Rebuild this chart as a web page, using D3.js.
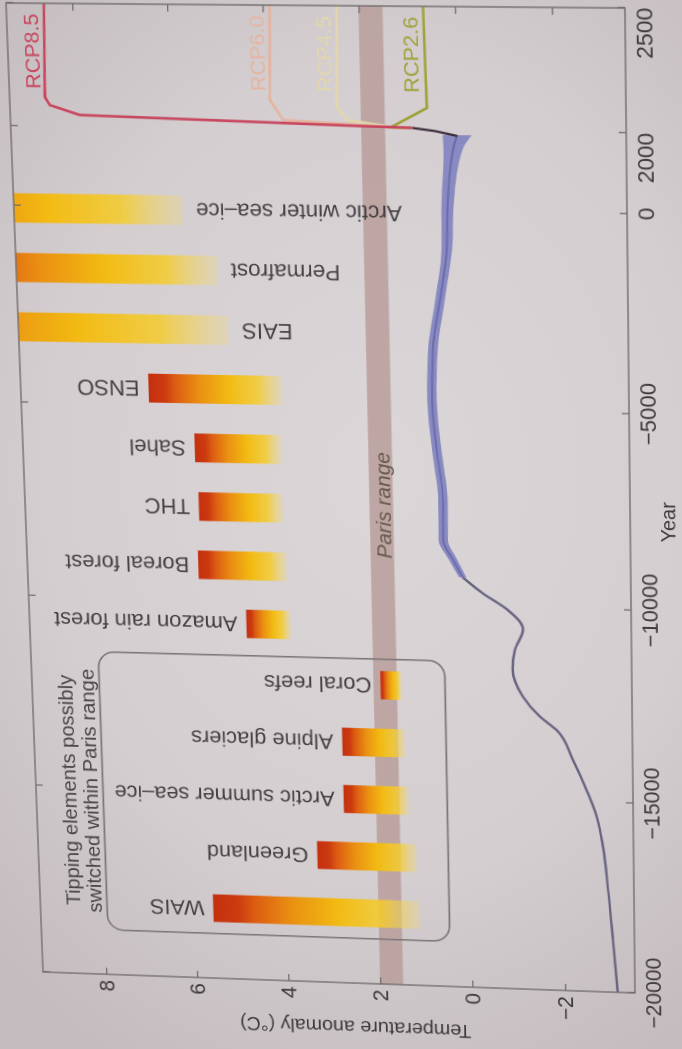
<!DOCTYPE html>
<html>
<head>
<meta charset="utf-8">
<script src="https://cdn.jsdelivr.net/npm/d3@7"></script>
<style>
    html, body { margin: 0; padding: 0; }
    body {
        width: 682px;
        height: 1049px;
        overflow: hidden;
        position: relative;
        background: radial-gradient(ellipse 80% 65% at 55% 45%, #dbd6d8 0%, #d4ced0 60%, #c3bbbd 100%);
    }
    #chart {
        position: absolute;
        left: 0;
        top: 0;
        transform-origin: 0 0;
        filter: blur(0.35px);
    }
    text { font-family: "Liberation Sans", Arial, sans-serif; }
</style>
</head>
<body>
<div id="chart"></div>
<script>
// paleo record up to the early Holocene (thin line)
let shakunYears = [-20000, -18600, -17300, -16150, -15400, -14700, -13900, -13150, -12800, -12300, -11600, -11100, -10550, -10050, -9650, -9250]
let shakunTemp = [-3.13, -3.04, -2.95, -2.85, -2.73, -2.52, -2.23, -1.90, -1.54, -1.19, -0.98, -1.03, -1.21, -0.88, -0.37, 0.05]

// Holocene record, drawn as a band
let marcottYears = [-9250, -8800, -8300, -7300, -6000, -4750, -3450, -2200, -950, 300, 1550, 1900]
let marcottTemp = [0.05, 0.25, 0.45, 0.44, 0.55, 0.63, 0.59, 0.42, 0.26, 0.22, 0.09, 0.0]
let marcottSpread = [0.08, 0.09, 0.1, 0.1, 0.1, 0.1, 0.1, 0.1, 0.11, 0.13, 0.2, 0.3]

// instrumental record
let obsYears = [1880, 1940, 1996, 2011]
let obsTemp = [0.0, 0.24, 0.47, 0.94]

// projections (drawn in this order, 8.5 on top)
let rcpNames = ["RCP4.5", "RCP6.0", "RCP2.6", "RCP8.5"]
let rcpColors = ["#e2d6ac", "#e4b4a0", "#9ea33a", "#c8475f"]
let rcp45Years = [2011, 2013, 2040, 2092, 2500]
let rcp45Temp = [0.94, 1.33, 2.29, 2.5, 2.45]
let rcp60Years = [2011, 2013, 2037, 2118, 2500]
let rcp60Temp = [0.94, 1.33, 3.63, 3.9, 3.85]
let rcp26Years = [2011, 2013, 2092, 2500]
let rcp26Temp = [0.94, 1.37, 0.62, 0.66]
let rcp85Years = [2011, 2013, 2016, 2048, 2087, 2120, 2500]
let rcp85Temp = [0.94, 1.33, 2.02, 7.92, 8.55, 8.65, 8.6]

// tipping elements, temperature ranges
let tipNames = ["WAIS", "Greenland", "Arctic summer sea\u2013ice", "Alpine glaciers", "Coral reefs", "Amazon rain forest",
    "Boreal forest", "THC", "Sahel", "ENSO", "EAIS", "Permafrost", "Arctic winter sea\u2013ice"]
let tipLow = [1.1, 1.15, 1.3, 1.35, 1.4, 3.75, 3.8, 3.85, 3.85, 3.8, 4.9, 5.1, 5.8]
let tipHigh = [5.6, 3.3, 2.7, 2.7, 1.85, 4.7, 5.7, 5.65, 5.7, 6.65, 13, 11.2, 13]
let parisTipCount = 5

let parisRange = [1.5, 2.0]
let boxTemp = [0.47, 7.93]

let yearTicks = [-20000, -15000, -10000, -5000, 0, 2000, 2500]
let tempTicks = [-2, 0, 2, 4, 6, 8]

const W = 985, H = 600
const margin = { top: 40, right: 40, bottom: 100, left: 100 }
const ink = '#3d393b', frameColor = '#736e70'

// axis is stretched after 2000
let x = d3.scaleLinear().domain([-20000, 2000, 2500]).range([0, 0.878 * W, W])
let y = d3.scaleLinear().domain([-3.5, 9.4]).range([H, 0])
let px = d3.scalePoint().domain(tipNames).range([0.075 * W, 0.796 * W])

let svgW = margin.left + W + margin.right
let svgH = margin.top + H + margin.bottom

let holder = d3.select('#chart').style('width', svgW + 'px').style('height', svgH + 'px')
let svg = holder.append('svg').attr('width', svgW).attr('height', svgH)
let defs = svg.append('defs')

defs.append('clipPath').attr('id', 'plot-clip')
    .append('rect').attr('width', W).attr('height', H)

let grad = defs.append('linearGradient').attr('id', 'tip-grad')
    .attr('x1', 0).attr('y1', 0).attr('x2', 0).attr('y2', 1)
let stops = [
    [0, '#c4300e', 1], [0.12, '#cc3a10', 1], [0.2, '#dc5c12', 1], [0.38, '#ea9012', 1],
    [0.6, '#f2ba12', 1], [0.82, '#f4cb2c', 0.85], [1, '#f2d870', 0.25]
]
grad.selectAll('stop').data(stops).join('stop')
    .attr('offset', d => d[0]).attr('stop-color', d => d[1]).attr('stop-opacity', d => d[2])

let g = svg.append('g').attr('transform', `translate(${margin.left},${margin.top})`)
let plot = g.append('g').attr('clip-path', 'url(#plot-clip)')

// Paris range band
plot.append('rect')
    .attr('x', 0).attr('width', W)
    .attr('y', y(parisRange[1]))
    .attr('height', y(parisRange[0]) - y(parisRange[1]))
    .attr('fill', '#b99d9b')
    .attr('opacity', 0.85)

g.append('text')
    .attr('x', x(-7450))
    .attr('y', y(1.71))
    .attr('text-anchor', 'middle')
    .attr('dominant-baseline', 'central')
    .attr('font-size', 21)
    .attr('font-style', 'italic')
    .attr('fill', '#66594a')
    .text('Paris range')

// box around the elements that may tip within the Paris range
let step = px.step()
let boxL = px(tipNames[0]) - 0.45 * step
let boxR = px(tipNames[parisTipCount - 1]) + 0.45 * step
g.append('rect')
    .attr('x', boxL).attr('width', boxR - boxL)
    .attr('y', y(boxTemp[1]))
    .attr('height', y(boxTemp[0]) - y(boxTemp[1]))
    .attr('rx', 16)
    .attr('fill', 'none')
    .attr('stroke', '#7c7678')
    .attr('stroke-width', 1.6)

let boxTitle = g.append('text')
    .attr('text-anchor', 'middle')
    .attr('font-size', 21)
    .attr('fill', '#4a4547')
boxTitle.append('tspan').attr('x', (boxL + boxR) / 2).attr('y', y(boxTemp[1]) - 27).text('Tipping elements possibly')
boxTitle.append('tspan').attr('x', (boxL + boxR) / 2).attr('y', y(boxTemp[1]) - 5).text('switched within Paris range')

// tipping element bars
let tips = tipNames.map((name, i) => ({ name: name, lo: tipLow[i], hi: tipHigh[i] }))
let barW = 29
let topT = y.domain()[1]

plot.selectAll('.tip').data(tips).join('rect')
    .attr('class', 'tip')
    .attr('x', d => px(d.name) - barW / 2)
    .attr('width', barW)
    .attr('y', d => y(d.hi))
    .attr('height', d => y(d.lo) - y(d.hi))
    .attr('fill', 'url(#tip-grad)')

g.selectAll('.tip-label').data(tips).join('text')
    .attr('class', 'tip-label')
    .attr('transform', d => {
        let ty = d.hi > topT ? y(d.lo) + 13 : y(d.hi) - 9
        return `translate(${px(d.name)},${ty}) rotate(-90)`
    })
    .attr('text-anchor', d => d.hi > topT ? 'end' : 'start')
    .attr('dominant-baseline', 'central')
    .attr('font-size', 22)
    .attr('fill', '#454042')
    .text(d => d.name)

// temperature history
let line = d3.line().x(d => x(d[0])).y(d => y(d[1]))

plot.append('path')
    .datum(d3.zip(shakunYears, shakunTemp))
    .attr('d', line.curve(d3.curveMonotoneX))
    .attr('fill', 'none')
    .attr('stroke', '#67647f')
    .attr('stroke-width', 2.4)

let band = d3.area()
    .x((d, i) => x(marcottYears[i]))
    .y0((d, i) => y(marcottTemp[i] - marcottSpread[i]))
    .y1((d, i) => y(marcottTemp[i] + marcottSpread[i]))
    .curve(d3.curveMonotoneX)

plot.append('path')
    .datum(marcottYears)
    .attr('d', band)
    .attr('fill', '#7f82bf')
    .attr('opacity', 0.9)

plot.append('path')
    .datum(d3.zip(marcottYears, marcottTemp))
    .attr('d', line.curve(d3.curveMonotoneX))
    .attr('fill', 'none')
    .attr('stroke', '#6b6daa')
    .attr('stroke-width', 2)

plot.append('path')
    .datum(d3.zip(obsYears, obsTemp))
    .attr('d', line.curve(d3.curveLinear))
    .attr('fill', 'none')
    .attr('stroke', '#3a2e3b')
    .attr('stroke-width', 2.2)

// projections
let rcpData = [
    d3.zip(rcp45Years, rcp45Temp),
    d3.zip(rcp60Years, rcp60Temp),
    d3.zip(rcp26Years, rcp26Temp),
    d3.zip(rcp85Years, rcp85Temp)
]

plot.selectAll('.rcp').data(rcpData).join('path')
    .attr('class', 'rcp')
    .attr('d', line.curve(d3.curveLinear))
    .attr('fill', 'none')
    .attr('stroke', (d, i) => rcpColors[i])
    .attr('stroke-width', 2.6)

g.selectAll('.rcp-label').data(rcpData).join('text')
    .attr('class', 'rcp-label')
    .attr('x', x(2500) - 10)
    .attr('y', d => y(d[d.length - 1][1]) - 6)
    .attr('text-anchor', 'end')
    .attr('font-size', 21)
    .attr('fill', (d, i) => rcpColors[i])
    .text((d, i) => rcpNames[i])

// axes, ticks point into the frame on all four sides
let fmt = d3.format('d')

function styleAxis(sel) {
    sel.select('.domain').remove()
    sel.attr('font-family', null).attr('font-size', 22)
    sel.selectAll('line').attr('stroke', frameColor).attr('stroke-width', 1.3)
    sel.selectAll('text').attr('fill', ink)
}

let xAxisG = g.append('g')
    .attr('transform', `translate(0,${H})`)
    .call(d3.axisBottom(x).tickValues(yearTicks).tickFormat(fmt).tickSizeInner(-7).tickSizeOuter(0).tickPadding(10))
    .call(styleAxis)
xAxisG.selectAll('.tick text')
    .filter(d => d >= 2000)
    .attr('text-anchor', 'end')

g.append('g')
    .call(d3.axisTop(x).tickValues(yearTicks).tickFormat('').tickSizeInner(-7).tickSizeOuter(0))
    .call(styleAxis)

g.append('g')
    .call(d3.axisLeft(y).tickValues(tempTicks).tickFormat(fmt).tickSizeInner(-7).tickSizeOuter(0).tickPadding(6))
    .call(styleAxis)

g.append('g')
    .attr('transform', `translate(${W},0)`)
    .call(d3.axisRight(y).tickValues(tempTicks).tickFormat('').tickSizeInner(-7).tickSizeOuter(0))
    .call(styleAxis)

g.append('rect')
    .attr('width', W).attr('height', H)
    .attr('fill', 'none')
    .attr('stroke', frameColor)
    .attr('stroke-width', 1.4)

g.append('text')
    .attr('x', 0.49 * W)
    .attr('y', H + 44)
    .attr('text-anchor', 'middle')
    .attr('font-size', 20)
    .attr('fill', ink)
    .text('Year')

g.append('text')
    .attr('transform', `translate(-40,${0.53 * H}) rotate(-90)`)
    .attr('text-anchor', 'middle')
    .attr('font-size', 20)
    .attr('fill', ink)
    .text('Temperature anomaly (\u00b0C)')

// the reference is a photo of a printed page: map the frame corners
// onto where they sit in the photo (rotated, with some perspective)
let frameCorners = [[43, 972], [6, 3], [625, 8], [635, 993]]

function squareToQuad(q) {
    let [x0, y0] = q[0], [x1, y1] = q[1], [x2, y2] = q[2], [x3, y3] = q[3]
    let sx = x0 - x1 + x2 - x3, sy = y0 - y1 + y2 - y3
    let dx1 = x1 - x2, dx2 = x3 - x2, dy1 = y1 - y2, dy2 = y3 - y2
    let den = dx1 * dy2 - dx2 * dy1
    let gg = (sx * dy2 - dx2 * sy) / den
    let hh = (dx1 * sy - sx * dy1) / den
    return [
        [x1 - x0 + gg * x1, x3 - x0 + hh * x3, x0],
        [y1 - y0 + gg * y1, y3 - y0 + hh * y3, y0],
        [gg, hh, 1]
    ]
}

function matMul(a, b) {
    return a.map(row => [0, 1, 2].map(j => row[0] * b[0][j] + row[1] * b[1][j] + row[2] * b[2][j]))
}

let toUnit = [[1 / W, 0, -margin.left / W], [0, 1 / H, -margin.top / H], [0, 0, 1]]
let m = matMul(squareToQuad(frameCorners), toUnit)
holder.style('transform', `matrix3d(${m[0][0]},${m[1][0]},0,${m[2][0]},${m[0][1]},${m[1][1]},0,${m[2][1]},0,0,1,0,${m[0][2]},${m[1][2]},0,${m[2][2]})`)
</script>
</body>
</html>
